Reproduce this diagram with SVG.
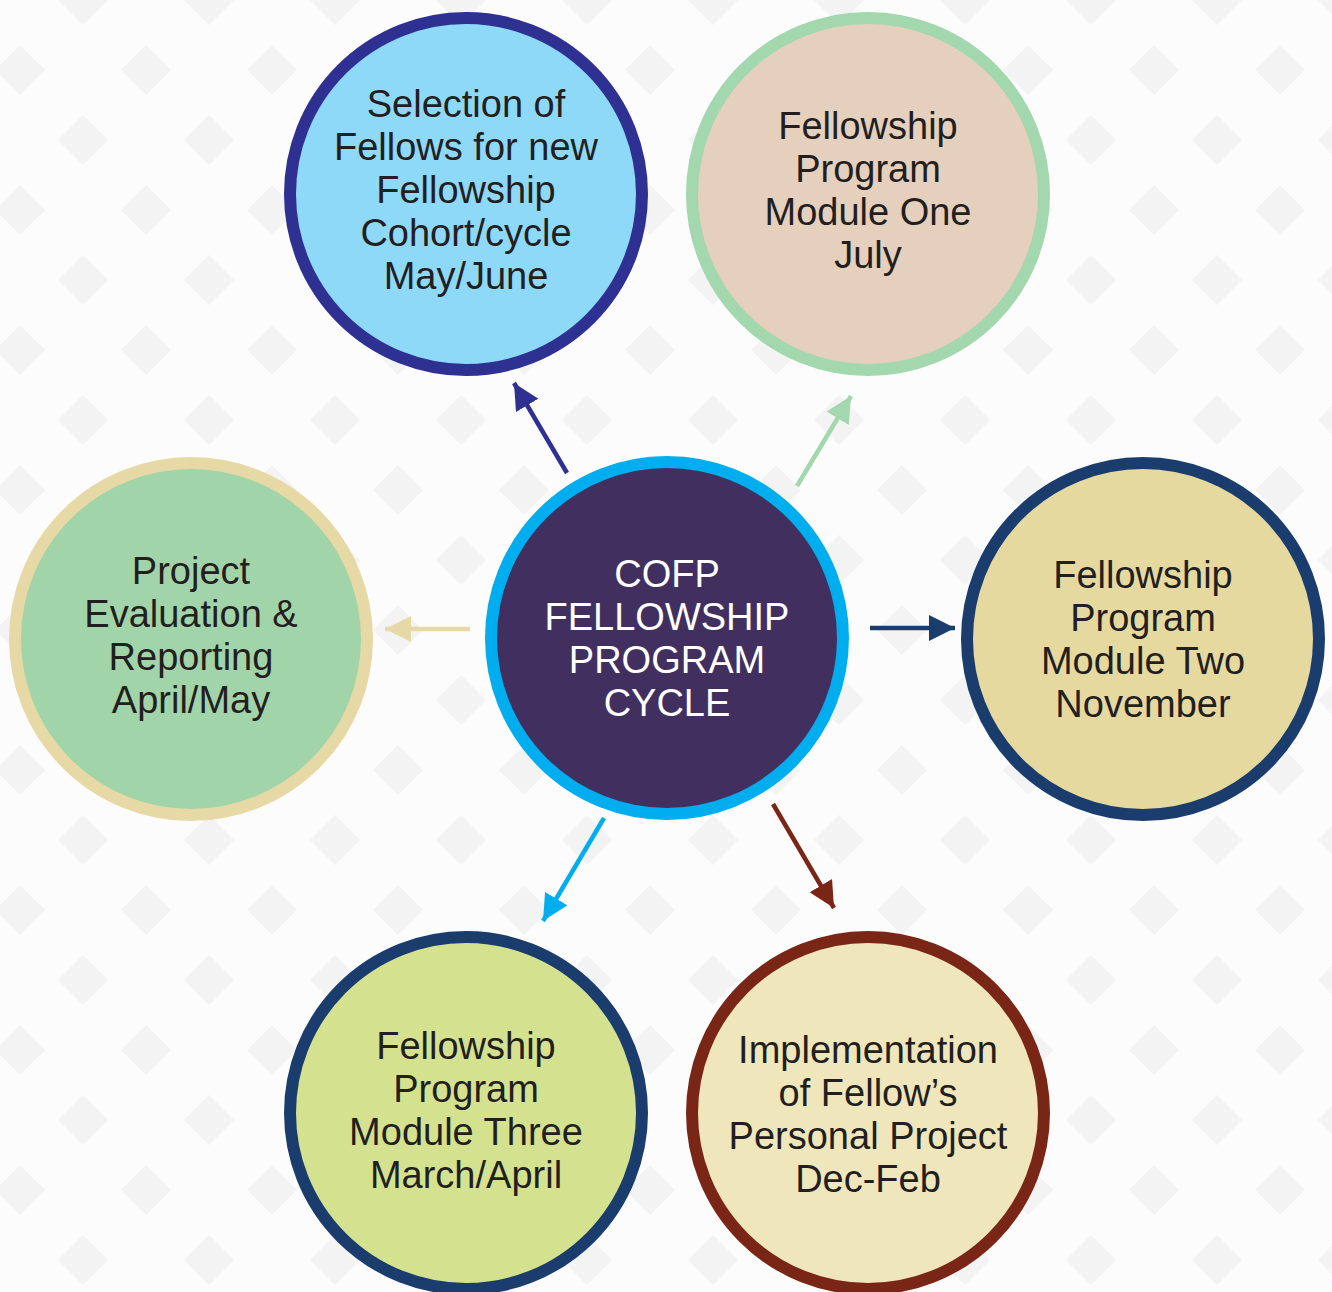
<svg xmlns="http://www.w3.org/2000/svg" width="1332" height="1292" viewBox="0 0 1332 1292">
  <style>
    .t { font-family: "Liberation Sans", Arial, sans-serif; font-size: 38px; text-anchor: middle; fill: #231f20; }
    .tw { fill: #ffffff; }
    .ring { stroke-width: 12; }
  </style>
  <defs>
    <pattern id="bg" x="20" y="0" width="126" height="140" patternUnits="userSpaceOnUse">
      <rect width="126" height="140" fill="#fcfcfc"/>
      <polygon points="63,-25 88,0 63,25 38,0" fill="#f4f3f4"/>
      <polygon points="63,115 88,140 63,165 38,140" fill="#f4f3f4"/>
      <polygon points="0,45 25,70 0,95 -25,70" fill="#f4f3f4"/>
      <polygon points="126,45 151,70 126,95 101,70" fill="#f4f3f4"/>
    </pattern>
    <marker id="a1" markerUnits="userSpaceOnUse" markerWidth="30" markerHeight="30" refX="26" refY="13" orient="auto"><path d="M0,0 L26,13 L0,26 Z" fill="#2e3192"/></marker>
    <marker id="a2" markerUnits="userSpaceOnUse" markerWidth="30" markerHeight="30" refX="26" refY="13" orient="auto"><path d="M0,0 L26,13 L0,26 Z" fill="#a3d7ae"/></marker>
    <marker id="a3" markerUnits="userSpaceOnUse" markerWidth="30" markerHeight="30" refX="26" refY="13" orient="auto"><path d="M0,0 L26,13 L0,26 Z" fill="#1b3d6d"/></marker>
    <marker id="a4" markerUnits="userSpaceOnUse" markerWidth="30" markerHeight="30" refX="26" refY="13" orient="auto"><path d="M0,0 L26,13 L0,26 Z" fill="#e6d9a6"/></marker>
    <marker id="a5" markerUnits="userSpaceOnUse" markerWidth="30" markerHeight="30" refX="26" refY="13" orient="auto"><path d="M0,0 L26,13 L0,26 Z" fill="#00aeef"/></marker>
    <marker id="a6" markerUnits="userSpaceOnUse" markerWidth="30" markerHeight="30" refX="26" refY="13" orient="auto"><path d="M0,0 L26,13 L0,26 Z" fill="#7a2617"/></marker>
  </defs>
  <rect width="1332" height="1292" fill="url(#bg)"/>

  <g id="connectors" fill="none" stroke-width="4.5">
    <line x1="567" y1="473" x2="514" y2="383" stroke="#2e3192" marker-end="url(#a1)"/>
    <line x1="797" y1="486" x2="851" y2="396" stroke="#a3d7ae" marker-end="url(#a2)"/>
    <line x1="870" y1="628" x2="955" y2="628" stroke="#1b3d6d" marker-end="url(#a3)"/>
    <line x1="470" y1="629" x2="385" y2="629" stroke="#e6d9a6" marker-end="url(#a4)"/>
    <line x1="604" y1="818" x2="543" y2="921" stroke="#00aeef" marker-end="url(#a5)"/>
    <line x1="773" y1="804" x2="834" y2="908" stroke="#7a2617" marker-end="url(#a6)"/>
  </g>

  <g id="center">
    <circle cx="667" cy="638" r="176" fill="#41305f" stroke="#00aeef" class="ring"/>
    <text class="t tw" x="667" y="587">COFP</text>
    <text class="t tw" x="667" y="630">FELLOWSHIP</text>
    <text class="t tw" x="667" y="673">PROGRAM</text>
    <text class="t tw" x="667" y="716">CYCLE</text>
  </g>

  <g id="selection">
    <circle cx="466" cy="194" r="176" fill="#8ed8f8" stroke="#2e3192" class="ring"/>
    <text class="t" x="466" y="117">Selection of</text>
    <text class="t" x="466" y="160">Fellows for new</text>
    <text class="t" x="466" y="203">Fellowship</text>
    <text class="t" x="466" y="246">Cohort/cycle</text>
    <text class="t" x="466" y="289">May/June</text>
  </g>

  <g id="module-one">
    <circle cx="868" cy="194" r="176" fill="#e5cfbd" stroke="#a3d7ae" class="ring"/>
    <text class="t" x="868" y="139">Fellowship</text>
    <text class="t" x="868" y="182">Program</text>
    <text class="t" x="868" y="225">Module One</text>
    <text class="t" x="868" y="268">July</text>
  </g>

  <g id="module-two">
    <circle cx="1143" cy="639" r="176" fill="#e6d9a0" stroke="#1b3d6d" class="ring"/>
    <text class="t" x="1143" y="588">Fellowship</text>
    <text class="t" x="1143" y="631">Program</text>
    <text class="t" x="1143" y="674">Module Two</text>
    <text class="t" x="1143" y="717">November</text>
  </g>

  <g id="evaluation">
    <circle cx="191" cy="639" r="176" fill="#a2d4a9" stroke="#e6d9a6" class="ring"/>
    <text class="t" x="191" y="584">Project</text>
    <text class="t" x="191" y="627">Evaluation &amp;</text>
    <text class="t" x="191" y="670">Reporting</text>
    <text class="t" x="191" y="713">April/May</text>
  </g>

  <g id="module-three">
    <circle cx="466" cy="1113" r="176" fill="#d4e28f" stroke="#1b3d6d" class="ring"/>
    <text class="t" x="466" y="1059">Fellowship</text>
    <text class="t" x="466" y="1102">Program</text>
    <text class="t" x="466" y="1145">Module Three</text>
    <text class="t" x="466" y="1188">March/April</text>
  </g>

  <g id="implementation">
    <circle cx="868" cy="1113" r="176" fill="#efe6bb" stroke="#7a2617" class="ring"/>
    <text class="t" x="868" y="1063">Implementation</text>
    <text class="t" x="868" y="1106">of Fellow’s</text>
    <text class="t" x="868" y="1149">Personal Project</text>
    <text class="t" x="868" y="1192">Dec-Feb</text>
  </g>
</svg>
